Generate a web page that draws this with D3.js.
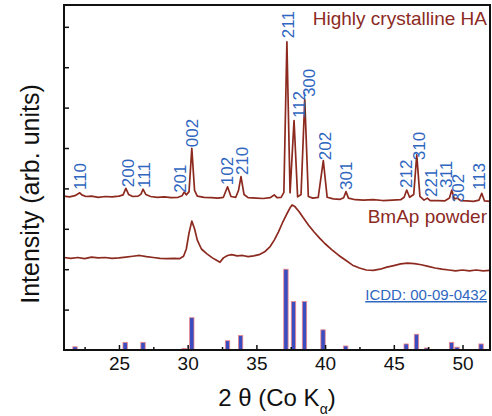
<!DOCTYPE html>
<html><head><meta charset="utf-8">
<script src="https://cdn.jsdelivr.net/npm/d3@7/dist/d3.min.js"></script>
<style>
html,body{margin:0;padding:0;background:#fff;}
svg{display:block;font-family:"Liberation Sans",Arial,sans-serif;}
</style></head><body>
<svg id="chart" width="492" height="416"></svg>
<script>
// ---- data (2θ in degrees, intensity in arbitrary units) ----
const haPattern = [[21.0,381],[21.4,379],[21.8,382],[22.0,386],[22.15,389],[22.3,384],[22.6,380],[23.0,381],[23.5,378],[24.0,380],[24.5,379],[25.0,381],[25.3,384],[25.5,400],[25.7,385],[26.0,380],[26.4,381],[26.6,386],[26.75,398],[26.95,385],[27.3,380],[27.8,378],[28.3,379],[28.8,377],[29.3,378],[29.6,382],[29.75,391],[29.9,384],[30.1,392],[30.3,499],[30.5,395],[30.7,381],[31.2,378],[31.7,377],[32.2,376],[32.6,378],[32.9,404],[33.15,380],[33.5,378],[33.7,395],[33.88,429],[34.1,385],[34.4,377],[35.0,376],[35.5,375],[36.0,377],[36.3,384],[36.5,377],[36.8,378],[37.0,390],[37.22,763],[37.45,389],[37.74,568],[38.0,379],[38.25,385],[38.52,620],[38.78,380],[39.1,376],[39.5,378],[39.87,469],[40.15,378],[40.6,374],[41.1,373],[41.35,377],[41.52,392],[41.7,376],[42.2,372],[42.8,371],[43.5,372],[44.2,370],[44.9,371],[45.5,372],[45.75,378],[45.94,396],[46.15,378],[46.45,385],[46.67,483],[46.9,380],[47.2,371],[47.44,376],[47.65,370],[48.2,370],[48.7,369],[49.05,376],[49.22,396],[49.4,374],[49.63,376],[49.85,370],[50.3,369],[50.8,368],[51.2,371],[51.4,388],[51.6,369],[52.0,368]];

const bmapPattern = [[21.0,229],[21.5,227],[22.0,229],[22.5,226],[23.0,230],[23.5,228],[24.0,229],[24.5,227],[25.0,228],[25.5,230],[26.0,232],[26.5,234],[27.0,231],[27.5,229],[28.0,227],[28.5,226],[29.0,227],[29.4,226],[29.7,232],[29.9,250],[30.1,290],[30.3,319],[30.5,300],[30.7,272],[31.0,250],[31.4,238],[31.8,228],[32.1,222],[32.35,217],[32.6,228],[32.9,234],[33.2,236],[33.6,233],[34.0,234],[34.4,231],[34.8,233],[35.2,236],[35.6,243],[36.0,256],[36.3,272],[36.6,292],[36.9,315],[37.2,336],[37.45,352],[37.6,359],[37.8,355],[38.1,343],[38.4,328],[38.8,309],[39.2,292],[39.6,277],[40.0,263],[40.5,248],[41.0,234],[41.5,222],[42.0,210],[42.5,203],[43.0,198],[43.5,197],[44.0,200],[44.5,205],[45.0,209],[45.5,213],[46.0,215],[46.5,214],[47.0,211],[47.5,207],[48.0,203],[48.5,200],[49.0,198],[49.5,196],[50.0,198],[50.5,196],[51.0,198],[51.5,196],[52.0,197]];

const icddAngles = [21.8,25.45,26.75,29.75,30.3,32.9,33.85,37.15,37.7,38.5,39.85,41.5,45.9,46.65,47.4,49.2,49.6,51.35];
const icddIntensity = [8,19,19,4,80,23,36,200,120,120,50,10,15,39,5,19,7,15];

const hklLabels = ["110","200","111","201","002","102","210","211","112","300","202","301","212","310","221","311","302","113"];
const hklAngles = [22.16,25.66,26.79,29.41,30.28,32.83,33.92,37.27,38.10,38.83,39.96,41.52,45.89,46.84,47.71,48.80,49.64,51.20];
const hklLevels = [396,403,401,389,502,408,433,772,574,626,470,396,401,470,379,401,366,396];

const xTicks = [25,30,35,40,45,50];
const xMinorTicks = [22.5,27.5,32.5,37.5,42.5,47.5];
const yTicks = [100,200,300,400,500,600,700,800];

// ---- layout ----
const svg = d3.select("#chart");
const L = 64, R = 490, T = 5, B = 350;
const x = d3.scaleLinear().domain([21,52]).range([L,R]);
const y = d3.scaleLinear().domain([0,854]).range([B,T]);

const brown = "#8c2a1f", blue = "#2f66c0";

// bars
svg.append("g").selectAll("rect").data(icddAngles).join("rect")
  .attr("x",(d)=>x(d)-2.2).attr("width",4.4)
  .attr("y",(d,i)=>y(icddIntensity[i])).attr("height",(d,i)=>B-y(icddIntensity[i]))
  .attr("fill","#3b4cc0").attr("stroke","#f08a8a").attr("stroke-width",0.8);

// curves
const line = d3.line().x(d=>x(d[0])).y(d=>y(d[1]));
svg.append("path").datum(haPattern).attr("d",line).attr("fill","none").attr("stroke",brown).attr("stroke-width",1.7).attr("stroke-linejoin","round");
svg.append("path").datum(bmapPattern).attr("d",line).attr("fill","none").attr("stroke",brown).attr("stroke-width",1.7).attr("stroke-linejoin","round");

// hkl labels
svg.append("g").selectAll("text").data(hklLabels).join("text")
  .attr("transform",(d,i)=>`translate(${x(hklAngles[i])},${y(hklLevels[i])}) rotate(-90)`)
  .attr("dy","0.36em").attr("text-anchor","start")
  .attr("font-size",17).attr("fill",blue).text(d=>d);

// axes
const xAxis = svg.append("g").attr("transform",`translate(0,${B})`)
  .call(d3.axisBottom(x).tickValues(xTicks).tickSizeInner(-5).tickSizeOuter(0).tickPadding(7).tickFormat(d3.format("d")));
xAxis.select(".domain").remove();
xAxis.selectAll("text").attr("font-size",19).attr("fill","#111").attr("font-family","Liberation Sans, Arial, sans-serif");
xAxis.selectAll("line").attr("stroke","#111").attr("stroke-width",1.5);

const xMinor = svg.append("g").attr("transform",`translate(0,${B})`)
  .call(d3.axisBottom(x).tickValues(xMinorTicks).tickSizeInner(-3).tickSizeOuter(0).tickFormat(""));
xMinor.select(".domain").remove();
xMinor.selectAll("line").attr("stroke","#111").attr("stroke-width",1.5);

const yAxis = svg.append("g").attr("transform",`translate(${L},0)`)
  .call(d3.axisLeft(y).tickValues(yTicks).tickSizeInner(-5).tickSizeOuter(0).tickFormat(""));
yAxis.select(".domain").remove();
yAxis.selectAll("line").attr("stroke","#111").attr("stroke-width",1.5);

// frame
svg.append("rect").attr("x",L).attr("y",T).attr("width",R-L).attr("height",B-T)
  .attr("fill","none").attr("stroke","#111").attr("stroke-width",2);

// annotations
svg.append("text").attr("x",487).attr("y",25).attr("text-anchor","end")
  .attr("font-size",19).attr("fill",brown).text("Highly crystalline HA");
svg.append("text").attr("x",487).attr("y",223).attr("text-anchor","end")
  .attr("font-size",19).attr("fill",brown).text("BmAp powder");
svg.append("text").attr("x",487).attr("y",300).attr("text-anchor","end")
  .attr("font-size",15).attr("fill",blue).attr("text-decoration","underline").text("ICDD: 00-09-0432");

// axis titles
const xt = svg.append("text").attr("x",(L+R)/2).attr("y",406).attr("text-anchor","middle")
  .attr("font-size",24).attr("fill","#111");
xt.append("tspan").text("2 θ (Co K");
xt.append("tspan").attr("font-size",14).attr("dy",8).text("α");
xt.append("tspan").attr("dy",-8).text(")");

svg.append("text").attr("transform",`translate(39,194) rotate(-90)`).attr("text-anchor","middle")
  .attr("font-size",25).attr("fill","#111").text("Intensity (arb. units)");
</script>
</body></html>
